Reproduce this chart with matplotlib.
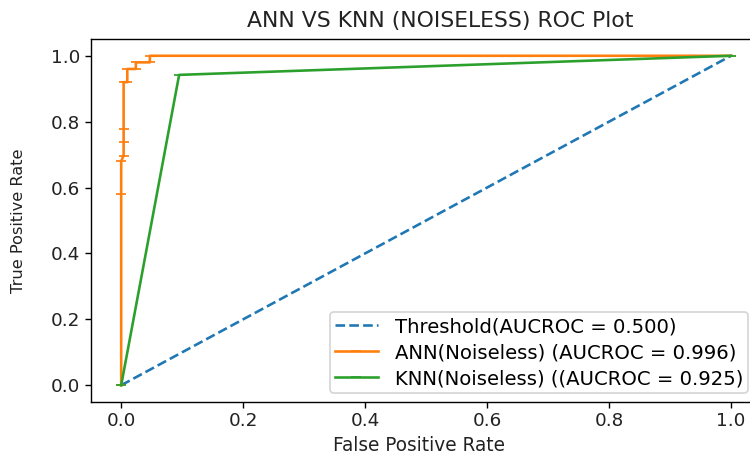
import numpy as np
import matplotlib
matplotlib.use('Agg')
import matplotlib.pyplot as plt

#%% ROC points
thr_fpr=[0.0,1.0]
thr_tpr=[0.0,1.0]

ann_fpr=[0.0,0.0,0.0,0.004,0.004,0.004,0.004,0.01,0.01,0.024,0.024,0.047,0.047,1.0]
ann_tpr=[0.0,0.58,0.68,0.697,0.737,0.777,0.92,0.92,0.96,0.96,0.98,0.98,1.0,1.0]

knn_fpr=[0.0,0.095,1.0]
knn_tpr=[0.0,0.942,1.0]

ann_auc=0.996
knn_auc=0.925

#%% Plot
fig=plt.figure(figsize=(6.0,3.64),dpi=125)
ax=fig.add_axes([90.7/750,(455-401.7)/455,(761.5-90.7)/750,(401.7-39.3)/455])
ax.plot(thr_fpr,thr_tpr,linestyle='--',label='Threshold(AUCROC = 0.500)')
ax.plot(ann_fpr,ann_tpr,marker='_',label='ANN(Noiseless) (AUCROC = %0.3f)'%ann_auc)
ax.plot(knn_fpr,knn_tpr,marker='_',label='KNN(Noiseless) ((AUCROC = %0.3f)'%knn_auc)
ax.set_title('ANN VS KNN (NOISELESS) ROC Plot',fontsize=12.6,color='#222222',x=0.521,pad=7)
ax.set_xlabel('False Positive Rate',fontsize=10.7,labelpad=1,color='#222222')
ax.xaxis.set_label_coords(0.489,-0.095)
ax.set_ylabel('True Positive Rate',fontsize=9.4,labelpad=14.5,color='#222222')
ax.tick_params(labelsize=10.6,pad=2.5,labelcolor='#222222')
ax.legend(loc='lower right',bbox_to_anchor=(748/750,(455-393)/455),
          bbox_transform=fig.transFigure,borderaxespad=0,fontsize=11.3,
          borderpad=0.25,labelspacing=0.35,handlelength=2.2,handletextpad=0.85)
fig.savefig('out.png',dpi=125)
